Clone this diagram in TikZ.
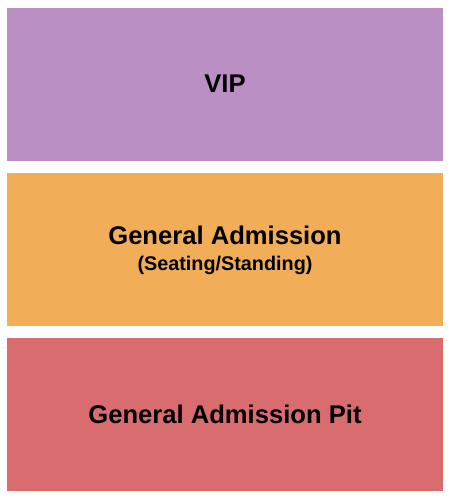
\documentclass[tikz,border=0pt]{standalone}
\usepackage{fontspec}
\setmainfont{Liberation Sans}
\definecolor{vipc}{RGB}{186,143,196}
\definecolor{gac}{RGB}{242,173,89}
\definecolor{pitc}{RGB}{216,108,110}
\begin{document}
\begin{tikzpicture}[x=1pt,y=-1pt,
  lbl/.style={font=\bfseries\fontsize{25.6}{28}\selectfont, text=black, inner sep=0pt},
  sublbl/.style={font=\bfseries\fontsize{19.8}{22}\selectfont, text=black, inner sep=0pt}]
\useasboundingbox (0,0) rectangle (450,500);
\fill[white] (0,0) rectangle (450,500);
\fill[vipc] (7,8) rectangle (443,161);
\fill[gac] (7,173) rectangle (443,326);
\fill[pitc] (7,338) rectangle (443,491);
\node[lbl, anchor=base] (vip) at (225,93) {VIP};
\node[lbl, anchor=base] (ga) at (225,244) {General Admission};
\node[sublbl, anchor=base] (gasub) at (225,270.5) {(Seating/Standing)};
\node[lbl, anchor=base] (pit) at (225,423) {General Admission Pit};
\end{tikzpicture}
\end{document}
